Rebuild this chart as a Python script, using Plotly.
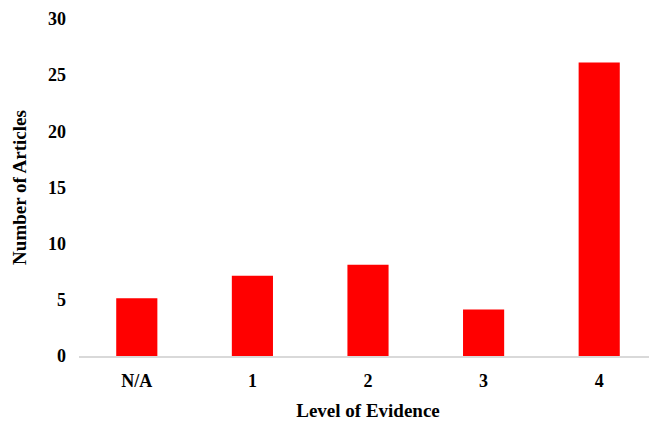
import plotly.graph_objects as go

categories = ["N/A", "1", "2", "3", "4"]
articles = [5, 7, 8, 4, 26]

fig = go.Figure(go.Bar(
    x=categories, y=articles,
    marker=dict(color="#ff0000", line=dict(color="#ff0000", width=3)),
))

font_family = "Liberation Serif, Times New Roman, serif"
fig.update_layout(
    width=649, height=413,
    margin=dict(l=71, r=0, t=11, b=65),
    paper_bgcolor="white", plot_bgcolor="white",
    bargap=0.67,
    showlegend=False,
    font=dict(family=font_family, color="black", size=18),
    xaxis=dict(
        type="category",
        showgrid=False, showline=True, linecolor="#d9d9d9", linewidth=1.5,
        ticks="", ticklabelstandoff=8,
        tickfont=dict(size=18, family=font_family, weight="bold"),
        title=dict(text="<b>Level of Evidence</b>", font=dict(size=19), standoff=26),
        automargin=False,
    ),
    yaxis=dict(
        range=[0, 30], dtick=5, showgrid=False, zeroline=False, showline=False,
        ticks="", ticklabelstandoff=12,
        tickfont=dict(size=18, family=font_family, weight="bold"),
        title=dict(text="<b>Number of Articles</b>", font=dict(size=19), standoff=16),
        automargin=False,
    ),
)

fig.write_html("out.html")
